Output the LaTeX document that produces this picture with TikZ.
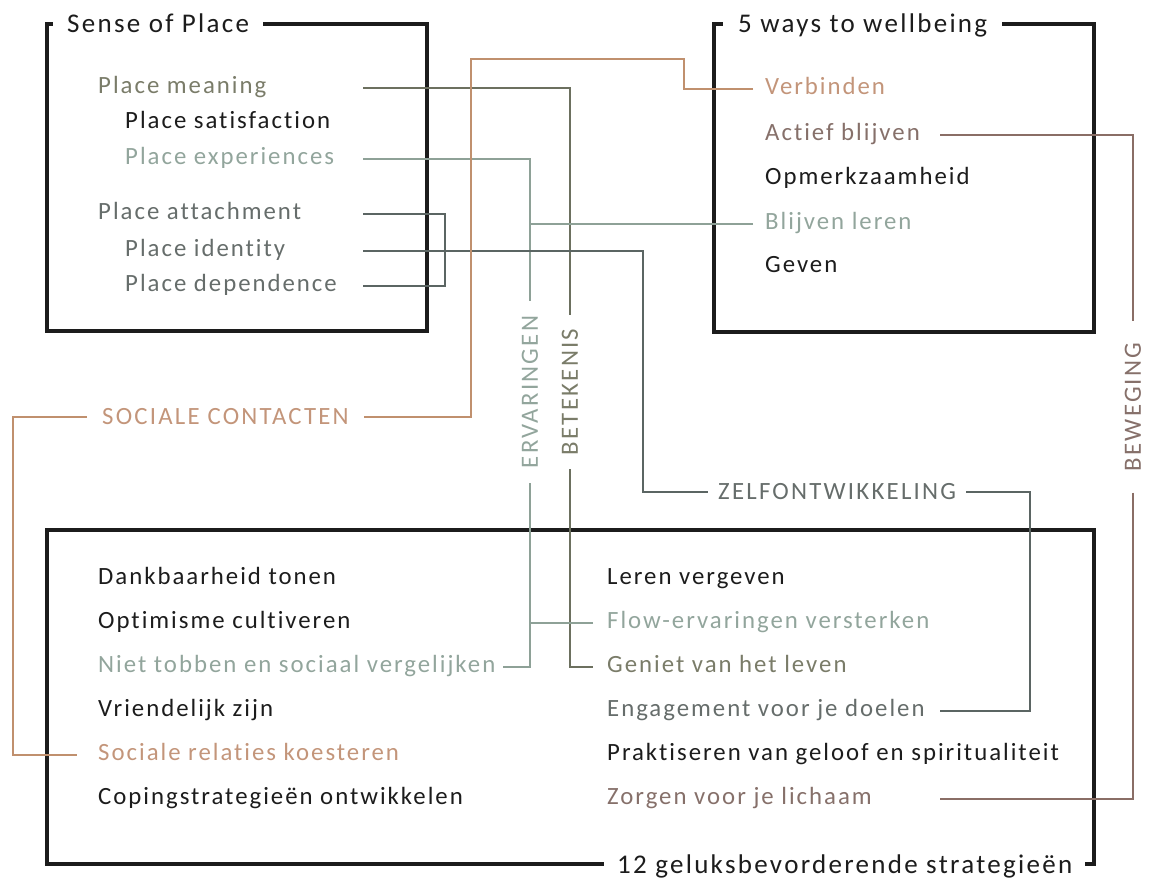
\documentclass[tikz,border=0pt]{standalone}
\usepackage{fontspec}
\newfontfamily\itemf{Carlito}[LetterSpace=8, Ligatures=NoCommon]
\newfontfamily\labf{Carlito}[LetterSpace=9, Ligatures=NoCommon]
\newfontfamily\titf{Carlito}[LetterSpace=8.5, Ligatures=NoCommon]
\definecolor{ink}{HTML}{1C1C1C}
\definecolor{tanT}{HTML}{C3957A}
\definecolor{tanL}{HTML}{C0906E}
\definecolor{brnT}{HTML}{86706A}
\definecolor{brnL}{HTML}{8A6E66}
\definecolor{sageT}{HTML}{92A59C}
\definecolor{sageL}{HTML}{8EA197}
\definecolor{oliveT}{HTML}{7A7C69}
\definecolor{oliveL}{HTML}{6C705F}
\definecolor{slateT}{HTML}{666D6B}
\definecolor{slateL}{HTML}{5B6563}
\tikzset{
  item/.style={anchor=mid west, inner sep=0pt, font=\itemf\fontsize{24.8}{30}\selectfont, text=ink},
  boxtitle/.style={anchor=base west, fill=white, inner xsep=14pt, inner ysep=4pt, font=\titf\fontsize{27}{32}\selectfont, text=ink},
  lab/.style={inner sep=0pt, font=\labf\fontsize{24.8}{30}\selectfont},
  link/.style={line width=1.8pt},
  frame/.style={line width=3.6pt, draw=ink, line join=miter}
}
\begin{document}
\itemf\fontsize{24.8}{30}\selectfont
\begin{tikzpicture}[x=1pt,y=-1pt]
\useasboundingbox (0,0) rectangle (1149,879);
% frames
\draw[frame] (47,24) rectangle (427,331);
\draw[frame] (714,24) rectangle (1094,332);
\draw[frame] (47,530) rectangle (1094,864);
\node[boxtitle] (t1) at (53,32.5) {Sense of Place};
\node[boxtitle, inner xsep=15pt] (t2) at (723,32.5) {5 ways to wellbeing};
\node[boxtitle, inner xsep=13pt] (t3) at (604,873.5) {12 geluksbevorderende strategieën};
% box 1 items
\node[item, text=oliveT] (pm) at (98,88) {Place meaning};
\node[item] (ps) at (125,123) {Place satisfaction};
\node[item, text=sageT] (pe) at (125,159) {Place experiences};
\node[item, text=slateT] (pa) at (98,214) {Place attachment};
\node[item, text=slateT] (pi) at (125,251) {Place identity};
\node[item, text=slateT] (pd) at (125,286) {Place dependence};
% box 2 items
\node[item, text=tanT] (verb) at (765,89) {Verbinden};
\node[item, text=brnT] (ab) at (765,135) {Actief blijven};
\node[item] (opm) at (765,179) {Opmerkzaamheid};
\node[item, text=sageT] (bl) at (765,224) {Blijven leren};
\node[item] (gev) at (765,267) {Geven};
% box 3 items
\node[item] (dank) at (98,579) {Dankbaarheid tonen};
\node[item] (opt) at (98,623) {Optimisme cultiveren};
\node[item, text=sageT] (nt) at (98,667) {Niet tobben en sociaal vergelijken};
\node[item] (vr) at (98,711) {Vriendelijk zijn};
\node[item, text=tanT] (srk) at (98,755) {Sociale relaties koesteren};
\node[item] (cop) at (98,799) {Copingstrategieën ontwikkelen};
\node[item] (lv) at (607,579) {Leren vergeven};
\node[item, text=sageT] (flow) at (607,623) {Flow-ervaringen versterken};
\node[item, text=oliveT] (gen) at (607,667) {Geniet van het leven};
\node[item, text=slateT] (eng) at (607,711) {Engagement voor je doelen};
\node[item] (prak) at (607,755) {Praktiseren van geloof en spiritualiteit};
\node[item, text=brnT] (zl) at (607,799) {Zorgen voor je lichaam};
% labels
\node[lab, text=tanT, anchor=west, inner xsep=15pt] (soc) at (87,417) {SOCIALE CONTACTEN};
\node[lab, text=sageT, rotate=90, inner xsep=15pt] (erv) at (530,392) {ERVARINGEN};
\node[lab, text=oliveT, rotate=90, inner xsep=14pt] (bet) at (570,392) {BETEKENIS};
\node[lab, text=slateT, anchor=west, inner xsep=10pt] (zelf) at (708,492) {ZELFONTWIKKELING};
\node[lab, text=brnT, rotate=90, inner xsep=21pt] (bew) at (1133,407) {BEWEGING};
% helper coordinates
\coordinate (Lx) at (363,0);
\coordinate (Rx) at (940,0);
\coordinate (Bx) at (445,0);
\coordinate (Zx) at (643,0);
\coordinate (Zr) at (1030,0);
\coordinate (s1) at (684,59);
\coordinate (s2) at (471,59);
\coordinate (s3) at (13,0);
% connectors
\draw[link, oliveL] (pm.mid -| Lx) -| (bet.east);
\draw[link, oliveL] (bet.west) |- ([xshift=-14pt]gen.mid west);
\draw[link, sageL] (pe.mid -| Lx) -| (erv.east);
\draw[link, sageL] (erv.west) |- ([xshift=7pt]nt.mid east);
\draw[link, sageL] ([xshift=-12pt]bl.mid west) -- (bl.mid -| erv.east);
\draw[link, sageL] ([xshift=-14pt]flow.mid west) -- (flow.mid -| erv.west);
\draw[link, slateL] (pa.mid -| Lx) -- (pa.mid -| Bx) -- (pd.mid -| Bx) -- (pd.mid -| Lx);
\draw[link, slateL] (pi.mid -| Lx) -| (zelf.west -| Zx) -- (zelf.west);
\draw[link, slateL] (zelf.east) -| (eng.mid -| Zr) -- (eng.mid -| Rx);
\draw[link, tanL] ([xshift=-12pt]verb.mid west) -| (s1) -- (s2) |- (soc.east);
\draw[link, tanL] (soc.west) -| (srk.mid -| s3) -- ([xshift=-21pt]srk.mid west);
\draw[link, brnL] (ab.mid -| Rx) -| (bew.east);
\draw[link, brnL] (bew.west) |- (zl.mid -| Rx);
\end{tikzpicture}
\end{document}
